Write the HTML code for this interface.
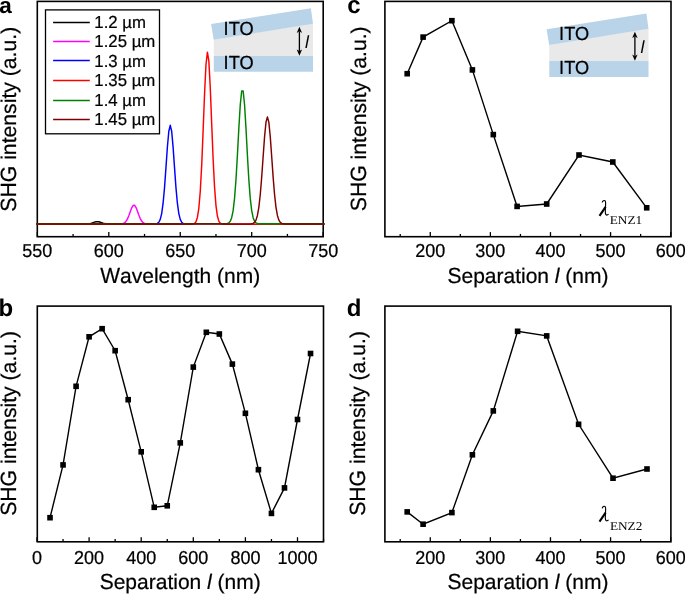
<!DOCTYPE html>
<html><head><meta charset="utf-8"><style>
html,body{margin:0;padding:0;background:#fff;overflow:hidden}
svg{display:block;will-change:transform;text-rendering:geometricPrecision}
</style></head><body>
<svg width="685" height="594" viewBox="0 0 685 594" font-family='"Liberation Sans", sans-serif'>
<rect width="685" height="594" fill="#fff"/>
<rect x="37.3" y="1.4" width="285.90" height="235.30" fill="none" stroke="#000" stroke-width="1.6"/>
<polyline points="85.94,224.00 87.37,223.93 88.79,223.78 90.22,223.52 91.65,223.12 93.08,222.62 94.51,222.10 95.94,221.72 97.37,221.60 98.80,221.78 100.23,222.20 101.66,222.72 103.08,223.21 104.51,223.58 105.94,223.82 107.37,223.95 108.80,224.01" fill="none" stroke="#000000" stroke-width="1.45" stroke-linejoin="round"/>
<polyline points="120.23,224.00 121.66,223.88 123.09,223.57 124.52,222.87 125.95,221.49 127.38,219.14 128.81,215.76 130.24,211.74 131.66,207.96 133.09,205.53 134.52,205.29 135.95,207.33 137.38,210.93 138.81,214.99 140.24,218.54 141.67,221.10 143.10,222.66 144.53,223.47 145.95,223.84 147.38,223.98" fill="none" stroke="#ff00ff" stroke-width="1.45" stroke-linejoin="round"/>
<polyline points="154.53,224.00 155.96,223.85 157.39,223.41 158.81,222.21 160.24,219.37 161.67,213.55 163.10,203.22 164.53,187.58 165.96,167.66 167.39,147.07 168.82,131.26 170.25,125.30 171.68,131.26 173.10,147.07 174.53,167.66 175.96,187.58 177.39,203.22 178.82,213.55 180.25,219.37 181.68,222.21 183.11,223.41 184.54,223.85 185.97,224.00" fill="none" stroke="#0000ff" stroke-width="1.45" stroke-linejoin="round"/>
<polyline points="36.20,224.30 37.35,224.30 38.78,224.30 40.21,224.30 41.64,224.30 43.07,224.30 44.50,224.30 45.92,224.30 47.35,224.30 48.78,224.30 50.21,224.30 51.64,224.30 53.07,224.30 54.50,224.30 55.93,224.30 57.36,224.30 58.79,224.30 60.21,224.30 61.64,224.30 63.07,224.30 64.50,224.30 65.93,224.30 67.36,224.30 68.79,224.30 70.22,224.30 71.65,224.30 73.08,224.30 74.50,224.30 75.93,224.30 77.36,224.30 78.79,224.30 80.22,224.30 81.65,224.30 83.08,224.30 84.51,224.30 85.94,224.30 87.37,224.30 88.79,224.30 90.22,224.30 91.65,224.30 93.08,224.30 94.51,224.30 95.94,224.30 97.37,224.30 98.80,224.30 100.23,224.30 101.66,224.30 103.08,224.30 104.51,224.30 105.94,224.30 107.37,224.30 108.80,224.30 110.23,224.30 111.66,224.30 113.09,224.30 114.52,224.30 115.94,224.30 117.37,224.30 118.80,224.30 120.23,224.30 121.66,224.30 123.09,224.30 124.52,224.30 125.95,224.30 127.38,224.30 128.81,224.30 130.24,224.30 131.66,224.30 133.09,224.30 134.52,224.30 135.95,224.30 137.38,224.30 138.81,224.30 140.24,224.30 141.67,224.30 143.10,224.30 144.53,224.30 145.95,224.30 147.38,224.30 148.81,224.30 150.24,224.30 151.67,224.30 153.10,224.30 154.53,224.30 155.96,224.30 157.39,224.30 158.81,224.30 160.24,224.30 161.67,224.30 163.10,224.30 164.53,224.30 165.96,224.30 167.39,224.30 168.82,224.30 170.25,224.30 171.68,224.30 173.10,224.30 174.53,224.30 175.96,224.30 177.39,224.30 178.82,224.30 180.25,224.30 181.68,224.30 183.11,224.30 184.54,224.30 185.97,224.30 187.40,224.30 188.82,224.30 190.25,224.28 191.68,224.23 193.11,224.04 194.54,223.43 195.97,221.68 197.40,217.40 198.83,208.28 200.26,191.55 201.69,165.39 203.11,131.04 204.54,94.34 205.97,64.90 207.40,52.21 208.83,60.77 210.26,87.53 211.69,123.62 213.12,159.06 214.55,187.09 215.97,205.62 217.40,216.05 218.83,221.09 220.26,223.20 221.69,223.97 223.12,224.21 224.55,224.28 225.98,224.30 227.41,224.30 228.84,224.30 230.27,224.30 231.69,224.30 233.12,224.30 234.55,224.30 235.98,224.30 237.41,224.30 238.84,224.30 240.27,224.30 241.70,224.30 243.13,224.30 244.56,224.30 245.98,224.30 247.41,224.30 248.84,224.30 250.27,224.30 251.70,224.30 253.13,224.30 254.56,224.30 255.99,224.30 257.42,224.30 258.85,224.30 260.27,224.30 261.70,224.30 263.13,224.30 264.56,224.30 265.99,224.30 267.42,224.30 268.85,224.30 270.28,224.30 271.71,224.30 273.13,224.30 274.56,224.30 275.99,224.30 277.42,224.30 278.85,224.30 280.28,224.30 281.71,224.30 283.14,224.30 284.57,224.30 286.00,224.30 287.43,224.30 288.85,224.30 290.28,224.30 291.71,224.30 293.14,224.30 294.57,224.30 296.00,224.30 297.43,224.30 298.86,224.30 300.29,224.30 301.72,224.30 303.14,224.30 304.57,224.30 306.00,224.30 307.43,224.30 308.86,224.30 310.29,224.30 311.72,224.30 313.15,224.30 314.58,224.30 316.01,224.30 317.43,224.30 318.86,224.30 320.29,224.30 321.72,224.30 323.15,224.30 324.60,224.30" fill="none" stroke="#ff0000" stroke-width="1.45" stroke-linejoin="round"/>
<polyline points="36.20,223.75 37.35,223.75 38.78,223.75 40.21,223.75 41.64,223.75 43.07,223.75 44.50,223.75 45.92,223.75 47.35,223.75 48.78,223.75 50.21,223.75 51.64,223.75 53.07,223.75 54.50,223.75 55.93,223.75 57.36,223.75 58.79,223.75 60.21,223.75 61.64,223.75 63.07,223.75 64.50,223.75 65.93,223.75 67.36,223.75 68.79,223.75 70.22,223.75 71.65,223.75 73.08,223.75 74.50,223.75 75.93,223.75 77.36,223.75 78.79,223.75 80.22,223.75 81.65,223.75 83.08,223.75 84.51,223.75 85.94,223.75 87.37,223.75 88.79,223.75 90.22,223.75 91.65,223.75 93.08,223.75 94.51,223.75 95.94,223.75 97.37,223.75 98.80,223.75 100.23,223.75 101.66,223.75 103.08,223.75 104.51,223.75 105.94,223.75 107.37,223.75 108.80,223.75 110.23,223.75 111.66,223.75 113.09,223.75 114.52,223.75 115.94,223.75 117.37,223.75 118.80,223.75 120.23,223.75 121.66,223.75 123.09,223.75 124.52,223.75 125.95,223.75 127.38,223.75 128.81,223.75 130.24,223.75 131.66,223.75 133.09,223.75 134.52,223.75 135.95,223.75 137.38,223.75 138.81,223.75 140.24,223.75 141.67,223.75 143.10,223.75 144.53,223.75 145.95,223.75 147.38,223.75 148.81,223.75 150.24,223.75 151.67,223.75 153.10,223.75 154.53,223.75 155.96,223.75 157.39,223.75 158.81,223.75 160.24,223.75 161.67,223.75 163.10,223.75 164.53,223.75 165.96,223.75 167.39,223.75 168.82,223.75 170.25,223.75 171.68,223.75 173.10,223.75 174.53,223.75 175.96,223.75 177.39,223.75 178.82,223.75 180.25,223.75 181.68,223.75 183.11,223.75 184.54,223.75 185.97,223.75 187.40,223.75 188.82,223.75 190.25,223.75 191.68,223.75 193.11,223.75 194.54,223.75 195.97,223.75 197.40,223.75 198.83,223.75 200.26,223.75 201.69,223.75 203.11,223.75 204.54,223.75 205.97,223.75 207.40,223.75 208.83,223.75 210.26,223.75 211.69,223.75 213.12,223.75 214.55,223.75 215.97,223.75 217.40,223.75 218.83,223.75 220.26,223.75 221.69,223.75 223.12,223.74 224.55,223.73 225.98,223.66 227.41,223.44 228.84,222.83 230.27,221.26 231.69,217.72 233.12,210.68 234.55,198.39 235.98,179.70 237.41,155.24 238.84,128.33 240.27,104.74 241.70,90.85 243.13,90.85 244.56,104.74 245.98,128.33 247.41,155.24 248.84,179.70 250.27,198.39 251.70,210.68 253.13,217.72 254.56,221.26 255.99,222.83 257.42,223.44 258.85,223.66 260.27,223.73 261.70,223.74 263.13,223.75 264.56,223.75 265.99,223.75 267.42,223.75 268.85,223.75 270.28,223.75 271.71,223.75 273.13,223.75 274.56,223.75 275.99,223.75 277.42,223.75 278.85,223.75 280.28,223.75 281.71,223.75 283.14,223.75 284.57,223.75 286.00,223.75 287.43,223.75 288.85,223.75 290.28,223.75 291.71,223.75 293.14,223.75 294.57,223.75 296.00,223.75 297.43,223.75 298.86,223.75 300.29,223.75 301.72,223.75 303.14,223.75 304.57,223.75 306.00,223.75 307.43,223.75 308.86,223.75 310.29,223.75 311.72,223.75 313.15,223.75 314.58,223.75 316.01,223.75 317.43,223.75 318.86,223.75 320.29,223.75 321.72,223.75 323.15,223.75 324.60,223.75" fill="none" stroke="#008000" stroke-width="1.45" stroke-linejoin="round"/>
<polyline points="36.20,224.05 37.35,224.05 38.78,224.05 40.21,224.05 41.64,224.05 43.07,224.05 44.50,224.05 45.92,224.05 47.35,224.05 48.78,224.05 50.21,224.05 51.64,224.05 53.07,224.05 54.50,224.05 55.93,224.05 57.36,224.05 58.79,224.05 60.21,224.05 61.64,224.05 63.07,224.05 64.50,224.05 65.93,224.05 67.36,224.05 68.79,224.05 70.22,224.05 71.65,224.05 73.08,224.05 74.50,224.05 75.93,224.05 77.36,224.05 78.79,224.05 80.22,224.05 81.65,224.05 83.08,224.05 84.51,224.05 85.94,224.05 87.37,224.05 88.79,224.05 90.22,224.05 91.65,224.05 93.08,224.05 94.51,224.05 95.94,224.05 97.37,224.05 98.80,224.05 100.23,224.05 101.66,224.05 103.08,224.05 104.51,224.05 105.94,224.05 107.37,224.05 108.80,224.05 110.23,224.05 111.66,224.05 113.09,224.05 114.52,224.05 115.94,224.05 117.37,224.05 118.80,224.05 120.23,224.05 121.66,224.05 123.09,224.05 124.52,224.05 125.95,224.05 127.38,224.05 128.81,224.05 130.24,224.05 131.66,224.05 133.09,224.05 134.52,224.05 135.95,224.05 137.38,224.05 138.81,224.05 140.24,224.05 141.67,224.05 143.10,224.05 144.53,224.05 145.95,224.05 147.38,224.05 148.81,224.05 150.24,224.05 151.67,224.05 153.10,224.05 154.53,224.05 155.96,224.05 157.39,224.05 158.81,224.05 160.24,224.05 161.67,224.05 163.10,224.05 164.53,224.05 165.96,224.05 167.39,224.05 168.82,224.05 170.25,224.05 171.68,224.05 173.10,224.05 174.53,224.05 175.96,224.05 177.39,224.05 178.82,224.05 180.25,224.05 181.68,224.05 183.11,224.05 184.54,224.05 185.97,224.05 187.40,224.05 188.82,224.05 190.25,224.05 191.68,224.05 193.11,224.05 194.54,224.05 195.97,224.05 197.40,224.05 198.83,224.05 200.26,224.05 201.69,224.05 203.11,224.05 204.54,224.05 205.97,224.05 207.40,224.05 208.83,224.05 210.26,224.05 211.69,224.05 213.12,224.05 214.55,224.05 215.97,224.05 217.40,224.05 218.83,224.05 220.26,224.05 221.69,224.05 223.12,224.05 224.55,224.05 225.98,224.05 227.41,224.05 228.84,224.05 230.27,224.05 231.69,224.05 233.12,224.05 234.55,224.05 235.98,224.05 237.41,224.05 238.84,224.05 240.27,224.05 241.70,224.05 243.13,224.05 244.56,224.05 245.98,224.05 247.41,224.05 248.84,224.03 250.27,223.99 251.70,223.84 253.13,223.43 254.56,222.40 255.99,220.10 257.42,215.48 258.85,207.31 260.27,194.53 261.70,177.09 263.13,156.68 264.56,136.87 265.99,122.28 267.42,116.90 268.85,122.28 270.28,136.87 271.71,156.68 273.13,177.09 274.56,194.53 275.99,207.31 277.42,215.48 278.85,220.10 280.28,222.40 281.71,223.43 283.14,223.84 284.57,223.99 286.00,224.03 287.43,224.05 288.85,224.05 290.28,224.05 291.71,224.05 293.14,224.05 294.57,224.05 296.00,224.05 297.43,224.05 298.86,224.05 300.29,224.05 301.72,224.05 303.14,224.05 304.57,224.05 306.00,224.05 307.43,224.05 308.86,224.05 310.29,224.05 311.72,224.05 313.15,224.05 314.58,224.05 316.01,224.05 317.43,224.05 318.86,224.05 320.29,224.05 321.72,224.05 323.15,224.05 324.60,224.05" fill="none" stroke="#800000" stroke-width="1.45" stroke-linejoin="round"/>
<line x1="37.35" y1="236.7" x2="37.35" y2="232.1" stroke="#000" stroke-width="1.3"/>
<line x1="108.80" y1="236.7" x2="108.80" y2="232.1" stroke="#000" stroke-width="1.3"/>
<line x1="180.25" y1="236.7" x2="180.25" y2="232.1" stroke="#000" stroke-width="1.3"/>
<line x1="251.70" y1="236.7" x2="251.70" y2="232.1" stroke="#000" stroke-width="1.3"/>
<line x1="323.15" y1="236.7" x2="323.15" y2="232.1" stroke="#000" stroke-width="1.3"/>
<line x1="73.08" y1="236.7" x2="73.08" y2="233.89999999999998" stroke="#000" stroke-width="1.3"/>
<line x1="144.53" y1="236.7" x2="144.53" y2="233.89999999999998" stroke="#000" stroke-width="1.3"/>
<line x1="215.97" y1="236.7" x2="215.97" y2="233.89999999999998" stroke="#000" stroke-width="1.3"/>
<line x1="287.43" y1="236.7" x2="287.43" y2="233.89999999999998" stroke="#000" stroke-width="1.3"/>
<text transform="translate(22.33,257.30) scale(1,1.04)" font-size="18" stroke="#000" stroke-width="0.22" xml:space="preserve">550</text>
<text transform="translate(93.78,257.30) scale(1,1.04)" font-size="18" stroke="#000" stroke-width="0.22" xml:space="preserve">600</text>
<text transform="translate(165.23,257.30) scale(1,1.04)" font-size="18" stroke="#000" stroke-width="0.22" xml:space="preserve">650</text>
<text transform="translate(236.68,257.30) scale(1,1.04)" font-size="18" stroke="#000" stroke-width="0.22" xml:space="preserve">700</text>
<text transform="translate(308.13,257.30) scale(1,1.04)" font-size="18" stroke="#000" stroke-width="0.22" xml:space="preserve">750</text>
<text transform="translate(100.27,282.80) scale(1,1.04)" font-size="21" stroke="#000" stroke-width="0.22" xml:space="preserve">W</text>
<text transform="translate(120.10,282.80) scale(1,1.0)" font-size="21" stroke="#000" stroke-width="0.22" xml:space="preserve">avelength (nm)</text>
<text transform="translate(15.80,119.20) rotate(-90) translate(-92.44,0) scale(1,1.04)" font-size="21.2" stroke="#000" stroke-width="0.22" xml:space="preserve">SHG</text>
<text transform="translate(15.80,119.20) rotate(-90) translate(-46.53,0) scale(1,1.0)" font-size="21.2" stroke="#000" stroke-width="0.22" xml:space="preserve"> intensity (a.u.)</text>
<rect x="45.5" y="9.9" width="114" height="123.9" fill="none" stroke="#000" stroke-width="1.3"/>
<line x1="53.1" y1="22.50" x2="89.8" y2="22.50" stroke="#000000" stroke-width="1.4"/>
<text transform="translate(94.30,27.80) scale(1,1.04)" font-size="16.8" stroke="#000" stroke-width="0.22" xml:space="preserve">1</text>
<text transform="translate(103.64,27.80) scale(1,1.0)" font-size="16.8" stroke="#000" stroke-width="0.22" xml:space="preserve">.</text>
<text transform="translate(108.32,27.80) scale(1,1.04)" font-size="16.8" stroke="#000" stroke-width="0.22" xml:space="preserve">2</text>
<text transform="translate(117.66,27.80) scale(1,1.0)" font-size="16.8" stroke="#000" stroke-width="0.22" xml:space="preserve"> µm</text>
<line x1="53.1" y1="41.50" x2="89.8" y2="41.50" stroke="#ff00ff" stroke-width="1.4"/>
<text transform="translate(94.30,47.25) scale(1,1.04)" font-size="16.8" stroke="#000" stroke-width="0.22" xml:space="preserve">1</text>
<text transform="translate(103.64,47.25) scale(1,1.0)" font-size="16.8" stroke="#000" stroke-width="0.22" xml:space="preserve">.</text>
<text transform="translate(108.32,47.25) scale(1,1.04)" font-size="16.8" stroke="#000" stroke-width="0.22" xml:space="preserve">25</text>
<text transform="translate(127.00,47.25) scale(1,1.0)" font-size="16.8" stroke="#000" stroke-width="0.22" xml:space="preserve"> µm</text>
<line x1="53.1" y1="60.50" x2="89.8" y2="60.50" stroke="#0000ff" stroke-width="1.4"/>
<text transform="translate(94.30,66.70) scale(1,1.04)" font-size="16.8" stroke="#000" stroke-width="0.22" xml:space="preserve">1</text>
<text transform="translate(103.64,66.70) scale(1,1.0)" font-size="16.8" stroke="#000" stroke-width="0.22" xml:space="preserve">.</text>
<text transform="translate(108.32,66.70) scale(1,1.04)" font-size="16.8" stroke="#000" stroke-width="0.22" xml:space="preserve">3</text>
<text transform="translate(117.66,66.70) scale(1,1.0)" font-size="16.8" stroke="#000" stroke-width="0.22" xml:space="preserve"> µm</text>
<line x1="53.1" y1="80.50" x2="89.8" y2="80.50" stroke="#ff0000" stroke-width="1.4"/>
<text transform="translate(94.30,86.15) scale(1,1.04)" font-size="16.8" stroke="#000" stroke-width="0.22" xml:space="preserve">1</text>
<text transform="translate(103.64,86.15) scale(1,1.0)" font-size="16.8" stroke="#000" stroke-width="0.22" xml:space="preserve">.</text>
<text transform="translate(108.32,86.15) scale(1,1.04)" font-size="16.8" stroke="#000" stroke-width="0.22" xml:space="preserve">35</text>
<text transform="translate(127.00,86.15) scale(1,1.0)" font-size="16.8" stroke="#000" stroke-width="0.22" xml:space="preserve"> µm</text>
<line x1="53.1" y1="100.50" x2="89.8" y2="100.50" stroke="#008000" stroke-width="1.4"/>
<text transform="translate(94.30,105.60) scale(1,1.04)" font-size="16.8" stroke="#000" stroke-width="0.22" xml:space="preserve">1</text>
<text transform="translate(103.64,105.60) scale(1,1.0)" font-size="16.8" stroke="#000" stroke-width="0.22" xml:space="preserve">.</text>
<text transform="translate(108.32,105.60) scale(1,1.04)" font-size="16.8" stroke="#000" stroke-width="0.22" xml:space="preserve">4</text>
<text transform="translate(117.66,105.60) scale(1,1.0)" font-size="16.8" stroke="#000" stroke-width="0.22" xml:space="preserve"> µm</text>
<line x1="53.1" y1="119.50" x2="89.8" y2="119.50" stroke="#800000" stroke-width="1.4"/>
<text transform="translate(94.30,125.05) scale(1,1.04)" font-size="16.8" stroke="#000" stroke-width="0.22" xml:space="preserve">1</text>
<text transform="translate(103.64,125.05) scale(1,1.0)" font-size="16.8" stroke="#000" stroke-width="0.22" xml:space="preserve">.</text>
<text transform="translate(108.32,125.05) scale(1,1.04)" font-size="16.8" stroke="#000" stroke-width="0.22" xml:space="preserve">45</text>
<text transform="translate(127.00,125.05) scale(1,1.0)" font-size="16.8" stroke="#000" stroke-width="0.22" xml:space="preserve"> µm</text>
<polygon points="213.80,39.60 313.00,23.50 313.00,55.90 213.80,55.90" fill="#e9e9e9"/>
<polygon points="211.10,24.10 310.90,8.30 313.00,23.70 213.70,39.80" fill="#b9d3e9"/>
<polygon points="213.80,55.90 313.00,55.90 313.00,71.80 213.80,71.80" fill="#b9d3e9"/>
<text transform="translate(223.60,35.00) scale(1,1.04)" font-size="18.2" stroke="#000" stroke-width="0.22" xml:space="preserve">ITO</text>
<text transform="translate(223.60,69.00) scale(1,1.04)" font-size="18.2" stroke="#000" stroke-width="0.22" xml:space="preserve">ITO</text>
<line x1="299.40" y1="31.30" x2="299.40" y2="51.10" stroke="#000" stroke-width="1.3"/>
<polygon points="299.40,26.70 296.70,32.90 299.40,31.30 302.10,32.90" fill="#000"/>
<polygon points="299.40,55.70 296.70,49.50 299.40,51.10 302.10,49.50" fill="#000"/>
<text x="305.00" y="48.20" font-size="17.5" font-style="italic">l</text>
<text x="-0.8" y="12.7" font-size="22.5" font-weight="bold">a</text>
<polyline points="407.20,73.70 423.10,37.10 451.90,20.70 472.40,69.90 493.30,134.60 517.10,206.40 546.70,204.00 579.00,155.00 612.80,162.00 646.70,207.80" fill="none" stroke="#000" stroke-width="1.4" stroke-linejoin="miter"/>
<rect x="404.40" y="70.90" width="5.6" height="5.6" fill="#000"/>
<rect x="420.30" y="34.30" width="5.6" height="5.6" fill="#000"/>
<rect x="449.10" y="17.90" width="5.6" height="5.6" fill="#000"/>
<rect x="469.60" y="67.10" width="5.6" height="5.6" fill="#000"/>
<rect x="490.50" y="131.80" width="5.6" height="5.6" fill="#000"/>
<rect x="514.30" y="203.60" width="5.6" height="5.6" fill="#000"/>
<rect x="543.90" y="201.20" width="5.6" height="5.6" fill="#000"/>
<rect x="576.20" y="152.20" width="5.6" height="5.6" fill="#000"/>
<rect x="610.00" y="159.20" width="5.6" height="5.6" fill="#000"/>
<rect x="643.90" y="205.00" width="5.6" height="5.6" fill="#000"/>
<rect x="384.9" y="1.4" width="286.10" height="235.30" fill="none" stroke="#000" stroke-width="1.6"/>
<line x1="430.27" y1="236.7" x2="430.27" y2="232.1" stroke="#000" stroke-width="1.3"/>
<line x1="490.38" y1="236.7" x2="490.38" y2="232.1" stroke="#000" stroke-width="1.3"/>
<line x1="550.48" y1="236.7" x2="550.48" y2="232.1" stroke="#000" stroke-width="1.3"/>
<line x1="610.58" y1="236.7" x2="610.58" y2="232.1" stroke="#000" stroke-width="1.3"/>
<line x1="670.67" y1="236.7" x2="670.67" y2="232.1" stroke="#000" stroke-width="1.3"/>
<line x1="400.22" y1="236.7" x2="400.22" y2="233.89999999999998" stroke="#000" stroke-width="1.3"/>
<line x1="460.32" y1="236.7" x2="460.32" y2="233.89999999999998" stroke="#000" stroke-width="1.3"/>
<line x1="520.42" y1="236.7" x2="520.42" y2="233.89999999999998" stroke="#000" stroke-width="1.3"/>
<line x1="580.52" y1="236.7" x2="580.52" y2="233.89999999999998" stroke="#000" stroke-width="1.3"/>
<line x1="640.62" y1="236.7" x2="640.62" y2="233.89999999999998" stroke="#000" stroke-width="1.3"/>
<text transform="translate(415.25,257.30) scale(1,1.04)" font-size="18" stroke="#000" stroke-width="0.22" xml:space="preserve">200</text>
<text transform="translate(475.35,257.30) scale(1,1.04)" font-size="18" stroke="#000" stroke-width="0.22" xml:space="preserve">300</text>
<text transform="translate(535.45,257.30) scale(1,1.04)" font-size="18" stroke="#000" stroke-width="0.22" xml:space="preserve">400</text>
<text transform="translate(595.55,257.30) scale(1,1.04)" font-size="18" stroke="#000" stroke-width="0.22" xml:space="preserve">500</text>
<text transform="translate(655.65,257.30) scale(1,1.04)" font-size="18" stroke="#000" stroke-width="0.22" xml:space="preserve">600</text>
<text transform="translate(447.48,282.80) scale(1,1.04)" font-size="21" stroke="#000" stroke-width="0.22" xml:space="preserve">S</text>
<text transform="translate(461.48,282.80) scale(1,1.0)" font-size="21" stroke="#000" stroke-width="0.22" xml:space="preserve">eparation </text>
<text transform="translate(554.84,282.80) scale(1,1.0)" font-size="21" font-style="italic" stroke="#000" stroke-width="0.22" xml:space="preserve">l</text>
<text transform="translate(559.52,282.80) scale(1,1.0)" font-size="21" stroke="#000" stroke-width="0.22" xml:space="preserve"> (nm)</text>
<text transform="translate(366.00,118.80) rotate(-90) translate(-92.44,0) scale(1,1.04)" font-size="21.2" stroke="#000" stroke-width="0.22" xml:space="preserve">SHG</text>
<text transform="translate(366.00,118.80) rotate(-90) translate(-46.53,0) scale(1,1.0)" font-size="21.2" stroke="#000" stroke-width="0.22" xml:space="preserve"> intensity (a.u.)</text>
<text x="347.3" y="12.7" font-size="24" font-weight="bold">c</text>
<g transform="translate(599.0,200.0)" fill="none" stroke="#000"><path d="M3.2,2.5 C3.6,0.7 5.2,-0.1 6.3,1.0 C6.9,1.8 6.6,4.5 6.5,6.5 L6.3,11.5 C6.2,14.6 7.4,16.2 9.6,14.1" stroke-width="1.15"/><path d="M6.6,6.8 L0.5,15.8" stroke-width="2.1"/></g>
<text transform="translate(609.7,223.7) scale(1,0.9)" font-family='"Liberation Serif", serif' font-size="13.3">ENZ1</text>
<polygon points="549.30,44.70 648.50,28.60 648.50,61.00 549.30,61.00" fill="#e9e9e9"/>
<polygon points="546.60,29.20 646.40,13.40 648.50,28.80 549.20,44.90" fill="#b9d3e9"/>
<polygon points="549.30,61.00 648.50,61.00 648.50,76.90 549.30,76.90" fill="#b9d3e9"/>
<text transform="translate(559.10,40.10) scale(1,1.04)" font-size="18.2" stroke="#000" stroke-width="0.22" xml:space="preserve">ITO</text>
<text transform="translate(559.10,74.10) scale(1,1.04)" font-size="18.2" stroke="#000" stroke-width="0.22" xml:space="preserve">ITO</text>
<line x1="634.90" y1="36.40" x2="634.90" y2="56.20" stroke="#000" stroke-width="1.3"/>
<polygon points="634.90,31.80 632.20,38.00 634.90,36.40 637.60,38.00" fill="#000"/>
<polygon points="634.90,60.80 632.20,54.60 634.90,56.20 637.60,54.60" fill="#000"/>
<text x="640.50" y="53.30" font-size="17.5" font-style="italic">l</text>
<polyline points="50.02,517.70 63.05,464.90 76.08,386.30 89.10,336.80 102.12,328.70 115.15,350.70 128.18,399.70 141.20,451.80 154.23,507.30 167.25,505.80 180.28,442.90 193.30,367.10 206.33,332.30 219.35,334.00 232.38,364.10 245.40,413.30 258.43,469.70 271.45,513.40 284.48,487.90 297.50,419.50 310.53,353.50" fill="none" stroke="#000" stroke-width="1.4" stroke-linejoin="miter"/>
<rect x="47.23" y="514.90" width="5.6" height="5.6" fill="#000"/>
<rect x="60.25" y="462.10" width="5.6" height="5.6" fill="#000"/>
<rect x="73.28" y="383.50" width="5.6" height="5.6" fill="#000"/>
<rect x="86.30" y="334.00" width="5.6" height="5.6" fill="#000"/>
<rect x="99.33" y="325.90" width="5.6" height="5.6" fill="#000"/>
<rect x="112.35" y="347.90" width="5.6" height="5.6" fill="#000"/>
<rect x="125.38" y="396.90" width="5.6" height="5.6" fill="#000"/>
<rect x="138.40" y="449.00" width="5.6" height="5.6" fill="#000"/>
<rect x="151.43" y="504.50" width="5.6" height="5.6" fill="#000"/>
<rect x="164.45" y="503.00" width="5.6" height="5.6" fill="#000"/>
<rect x="177.47" y="440.10" width="5.6" height="5.6" fill="#000"/>
<rect x="190.50" y="364.30" width="5.6" height="5.6" fill="#000"/>
<rect x="203.53" y="329.50" width="5.6" height="5.6" fill="#000"/>
<rect x="216.55" y="331.20" width="5.6" height="5.6" fill="#000"/>
<rect x="229.57" y="361.30" width="5.6" height="5.6" fill="#000"/>
<rect x="242.60" y="410.50" width="5.6" height="5.6" fill="#000"/>
<rect x="255.62" y="466.90" width="5.6" height="5.6" fill="#000"/>
<rect x="268.65" y="510.60" width="5.6" height="5.6" fill="#000"/>
<rect x="281.68" y="485.10" width="5.6" height="5.6" fill="#000"/>
<rect x="294.70" y="416.70" width="5.6" height="5.6" fill="#000"/>
<rect x="307.73" y="350.70" width="5.6" height="5.6" fill="#000"/>
<rect x="37.3" y="306.1" width="286.20" height="235.70" fill="none" stroke="#000" stroke-width="1.6"/>
<line x1="37.00" y1="541.8" x2="37.00" y2="537.1999999999999" stroke="#000" stroke-width="1.3"/>
<line x1="89.10" y1="541.8" x2="89.10" y2="537.1999999999999" stroke="#000" stroke-width="1.3"/>
<line x1="141.20" y1="541.8" x2="141.20" y2="537.1999999999999" stroke="#000" stroke-width="1.3"/>
<line x1="193.30" y1="541.8" x2="193.30" y2="537.1999999999999" stroke="#000" stroke-width="1.3"/>
<line x1="245.40" y1="541.8" x2="245.40" y2="537.1999999999999" stroke="#000" stroke-width="1.3"/>
<line x1="297.50" y1="541.8" x2="297.50" y2="537.1999999999999" stroke="#000" stroke-width="1.3"/>
<line x1="63.05" y1="541.8" x2="63.05" y2="539.0" stroke="#000" stroke-width="1.3"/>
<line x1="115.15" y1="541.8" x2="115.15" y2="539.0" stroke="#000" stroke-width="1.3"/>
<line x1="167.25" y1="541.8" x2="167.25" y2="539.0" stroke="#000" stroke-width="1.3"/>
<line x1="219.35" y1="541.8" x2="219.35" y2="539.0" stroke="#000" stroke-width="1.3"/>
<line x1="271.45" y1="541.8" x2="271.45" y2="539.0" stroke="#000" stroke-width="1.3"/>
<line x1="323.55" y1="541.8" x2="323.55" y2="539.0" stroke="#000" stroke-width="1.3"/>
<text transform="translate(31.99,563.80) scale(1,1.04)" font-size="18" stroke="#000" stroke-width="0.22" xml:space="preserve">0</text>
<text transform="translate(74.08,563.80) scale(1,1.04)" font-size="18" stroke="#000" stroke-width="0.22" xml:space="preserve">200</text>
<text transform="translate(126.18,563.80) scale(1,1.04)" font-size="18" stroke="#000" stroke-width="0.22" xml:space="preserve">400</text>
<text transform="translate(178.28,563.80) scale(1,1.04)" font-size="18" stroke="#000" stroke-width="0.22" xml:space="preserve">600</text>
<text transform="translate(230.38,563.80) scale(1,1.04)" font-size="18" stroke="#000" stroke-width="0.22" xml:space="preserve">800</text>
<text transform="translate(277.47,563.80) scale(1,1.04)" font-size="18" stroke="#000" stroke-width="0.22" xml:space="preserve">1000</text>
<text transform="translate(99.68,589.00) scale(1,1.04)" font-size="21" stroke="#000" stroke-width="0.22" xml:space="preserve">S</text>
<text transform="translate(113.68,589.00) scale(1,1.0)" font-size="21" stroke="#000" stroke-width="0.22" xml:space="preserve">eparation </text>
<text transform="translate(207.04,589.00) scale(1,1.0)" font-size="21" font-style="italic" stroke="#000" stroke-width="0.22" xml:space="preserve">l</text>
<text transform="translate(211.72,589.00) scale(1,1.0)" font-size="21" stroke="#000" stroke-width="0.22" xml:space="preserve"> (nm)</text>
<text transform="translate(15.60,423.40) rotate(-90) translate(-92.44,0) scale(1,1.04)" font-size="21.2" stroke="#000" stroke-width="0.22" xml:space="preserve">SHG</text>
<text transform="translate(15.60,423.40) rotate(-90) translate(-46.53,0) scale(1,1.0)" font-size="21.2" stroke="#000" stroke-width="0.22" xml:space="preserve"> intensity (a.u.)</text>
<text x="-1.4" y="316.3" font-size="24" font-weight="bold">b</text>
<polyline points="407.20,511.90 423.10,524.20 451.90,512.60 472.40,454.80 493.30,410.90 517.60,331.30 546.70,335.90 578.60,424.30 613.00,478.20 647.00,469.00" fill="none" stroke="#000" stroke-width="1.4" stroke-linejoin="miter"/>
<rect x="404.40" y="509.10" width="5.6" height="5.6" fill="#000"/>
<rect x="420.30" y="521.40" width="5.6" height="5.6" fill="#000"/>
<rect x="449.10" y="509.80" width="5.6" height="5.6" fill="#000"/>
<rect x="469.60" y="452.00" width="5.6" height="5.6" fill="#000"/>
<rect x="490.50" y="408.10" width="5.6" height="5.6" fill="#000"/>
<rect x="514.80" y="328.50" width="5.6" height="5.6" fill="#000"/>
<rect x="543.90" y="333.10" width="5.6" height="5.6" fill="#000"/>
<rect x="575.80" y="421.50" width="5.6" height="5.6" fill="#000"/>
<rect x="610.20" y="475.40" width="5.6" height="5.6" fill="#000"/>
<rect x="644.20" y="466.20" width="5.6" height="5.6" fill="#000"/>
<rect x="384.9" y="306.1" width="286.00" height="235.70" fill="none" stroke="#000" stroke-width="1.6"/>
<line x1="430.27" y1="541.8" x2="430.27" y2="537.1999999999999" stroke="#000" stroke-width="1.3"/>
<line x1="490.38" y1="541.8" x2="490.38" y2="537.1999999999999" stroke="#000" stroke-width="1.3"/>
<line x1="550.48" y1="541.8" x2="550.48" y2="537.1999999999999" stroke="#000" stroke-width="1.3"/>
<line x1="610.58" y1="541.8" x2="610.58" y2="537.1999999999999" stroke="#000" stroke-width="1.3"/>
<line x1="670.67" y1="541.8" x2="670.67" y2="537.1999999999999" stroke="#000" stroke-width="1.3"/>
<line x1="400.22" y1="541.8" x2="400.22" y2="539.0" stroke="#000" stroke-width="1.3"/>
<line x1="460.32" y1="541.8" x2="460.32" y2="539.0" stroke="#000" stroke-width="1.3"/>
<line x1="520.42" y1="541.8" x2="520.42" y2="539.0" stroke="#000" stroke-width="1.3"/>
<line x1="580.52" y1="541.8" x2="580.52" y2="539.0" stroke="#000" stroke-width="1.3"/>
<line x1="640.62" y1="541.8" x2="640.62" y2="539.0" stroke="#000" stroke-width="1.3"/>
<text transform="translate(415.25,563.80) scale(1,1.04)" font-size="18" stroke="#000" stroke-width="0.22" xml:space="preserve">200</text>
<text transform="translate(475.35,563.80) scale(1,1.04)" font-size="18" stroke="#000" stroke-width="0.22" xml:space="preserve">300</text>
<text transform="translate(535.45,563.80) scale(1,1.04)" font-size="18" stroke="#000" stroke-width="0.22" xml:space="preserve">400</text>
<text transform="translate(595.55,563.80) scale(1,1.04)" font-size="18" stroke="#000" stroke-width="0.22" xml:space="preserve">500</text>
<text transform="translate(655.65,563.80) scale(1,1.04)" font-size="18" stroke="#000" stroke-width="0.22" xml:space="preserve">600</text>
<text transform="translate(447.48,589.00) scale(1,1.04)" font-size="21" stroke="#000" stroke-width="0.22" xml:space="preserve">S</text>
<text transform="translate(461.48,589.00) scale(1,1.0)" font-size="21" stroke="#000" stroke-width="0.22" xml:space="preserve">eparation </text>
<text transform="translate(554.84,589.00) scale(1,1.0)" font-size="21" font-style="italic" stroke="#000" stroke-width="0.22" xml:space="preserve">l</text>
<text transform="translate(559.52,589.00) scale(1,1.0)" font-size="21" stroke="#000" stroke-width="0.22" xml:space="preserve"> (nm)</text>
<text transform="translate(365.30,423.40) rotate(-90) translate(-92.44,0) scale(1,1.04)" font-size="21.2" stroke="#000" stroke-width="0.22" xml:space="preserve">SHG</text>
<text transform="translate(365.30,423.40) rotate(-90) translate(-46.53,0) scale(1,1.0)" font-size="21.2" stroke="#000" stroke-width="0.22" xml:space="preserve"> intensity (a.u.)</text>
<text x="346.7" y="316.2" font-size="24" font-weight="bold">d</text>
<g transform="translate(599.0,505.8)" fill="none" stroke="#000"><path d="M3.2,2.5 C3.6,0.7 5.2,-0.1 6.3,1.0 C6.9,1.8 6.6,4.5 6.5,6.5 L6.3,11.5 C6.2,14.6 7.4,16.2 9.6,14.1" stroke-width="1.15"/><path d="M6.6,6.8 L0.5,15.8" stroke-width="2.1"/></g>
<text transform="translate(609.9,529.6) scale(1,0.9)" font-family='"Liberation Serif", serif' font-size="13.3">ENZ2</text>
</svg>
</body></html>
